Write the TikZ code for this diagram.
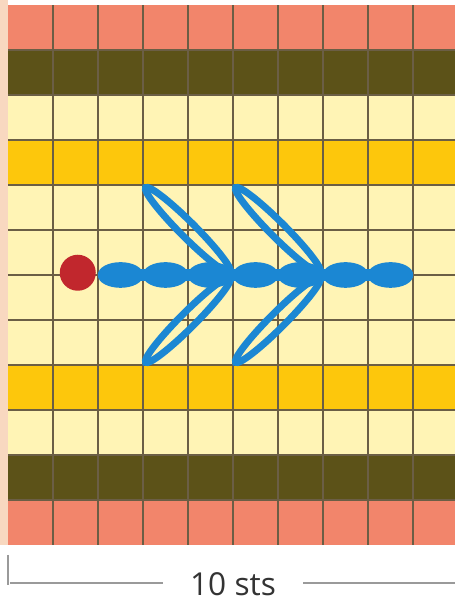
\documentclass[tikz,border=0pt]{standalone}
\usepackage{fontspec}
\setmainfont{Open Sans}
\usepackage{xcolor}
\usepackage{tikz}

\definecolor{salmon}{HTML}{F2856B}
\definecolor{olive}{HTML}{5C5218}
\definecolor{pale}{HTML}{FFF4B5}
\definecolor{gold}{HTML}{FDC70C}
\definecolor{peach}{HTML}{F8D8C0}
\definecolor{gridcol}{HTML}{6B5E45}
\definecolor{stitch}{HTML}{1B87D3}
\definecolor{knotred}{HTML}{C1272D}
\definecolor{barcol}{HTML}{9A9A9A}
\definecolor{textcol}{HTML}{333333}

\begin{document}
\begin{tikzpicture}[
      gridline/.style={draw=gridcol, line width=1.3pt},
      chainst/.style={draw=stitch, fill=stitch, line width=2pt},
      loopst/.style={draw=stitch, line width=4.4pt},
      scalebar/.style={draw=barcol, line width=1.5pt},
      stslabel/.style={font=\fontsize{20}{22}\selectfont, text=textcol,
                       inner xsep=0.6cm, inner ysep=0pt}
    ]
    \useasboundingbox (-0.178,-1.289) rectangle (9.933,12.111);
    \clip (-0.178,-1.289) rectangle (9.933,12.111);
    \fill[white] (-0.178,-1.289) rectangle (9.933,12.111);

    % Colour bands of the chart
    \fill[peach] (-0.178,0) rectangle (0,12.111);
    \foreach \yb/\col in {0/salmon,1/olive,2/pale,3/gold,4/pale,5/pale,
                          6/pale,7/pale,8/gold,9/pale,10/olive,11/salmon}
      \fill[\col] (0,\yb) rectangle (10,\yb+1);

    % Grid
    \foreach \x in {1,...,9}
      \draw[gridline] (\x,0) -- (\x,12);
    \foreach \y in {1,...,11}
      \draw[gridline] (0,\y) -- (10,\y);

    % Slip knot
    \node[circle, fill=knotred, minimum size=0.8cm, inner sep=0pt] (knot) at (1.55,6.05) {};

    % Chain stitches
    \draw[stitch, line width=8pt] (2.2,6) -- (8.8,6);
    \foreach \i in {2,...,8}
      \draw[chainst] (\i+0.5,6) ellipse [x radius=0.47, y radius=0.25];

    % Long loops
    \foreach \ax in {5,7} {
      \draw[loopst, rotate around={-45:(\ax-1,7)}] (\ax-1,7) ellipse [x radius=1.33, y radius=0.17];
      \draw[loopst, rotate around={45:(\ax-1,5)}] (\ax-1,5) ellipse [x radius=1.33, y radius=0.17];
    }

    % Scale
    \node[stslabel] (sts) at (5,-0.88) {10 sts};
    \coordinate (scaleL) at (0.04,-0.844);
    \coordinate (scaleR) at (9.933,-0.844);
    \draw[scalebar] (0,-0.22) -- (0,-0.89);
    \draw[scalebar] (scaleL) -- (scaleL -| sts.west);
    \draw[scalebar] (scaleR -| sts.east) -- (scaleR);

  \end{tikzpicture}
\end{document}
